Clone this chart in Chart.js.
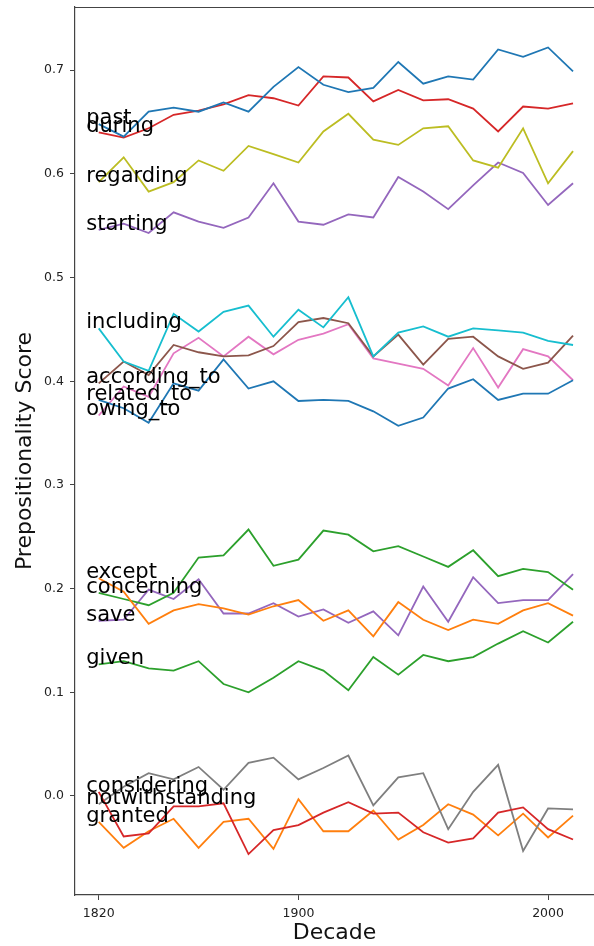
<!DOCTYPE html>
<html>
<head>
<meta charset="utf-8">
<script src="https://cdn.jsdelivr.net/npm/chart.js@4/dist/chart.umd.min.js"></script>
<style>
  html, body { margin: 0; padding: 0; background: #fff; }
  #chart { display: block; }
</style>
</head>
<body>
<canvas id="chart" width="594" height="946"></canvas>
<script>
// decades on the x axis
const decades = [1820, 1830, 1840, 1850, 1860, 1870, 1880, 1890, 1900, 1910,
                 1920, 1930, 1940, 1950, 1960, 1970, 1980, 1990, 2000, 2010];
const xTicks = [1820, 1900, 2000];
const yTicks = [0.0, 0.1, 0.2, 0.3, 0.4, 0.5, 0.6, 0.7];

// ===== series =====
const past = [0.648, 0.636, 0.660, 0.664, 0.660, 0.669, 0.660, 0.684, 0.703, 0.686,
              0.679, 0.683, 0.708, 0.687, 0.694, 0.691, 0.720, 0.713, 0.722, 0.699];
const during = [0.640, 0.635, 0.644, 0.657, 0.661, 0.667, 0.676, 0.673, 0.666, 0.694,
                0.693, 0.670, 0.681, 0.671, 0.672, 0.663, 0.641, 0.665, 0.663, 0.668];
const regarding = [0.592, 0.616, 0.583, 0.592, 0.613, 0.603, 0.627, 0.619, 0.611, 0.641,
                   0.658, 0.633, 0.628, 0.644, 0.646, 0.613, 0.606, 0.644, 0.591, 0.622];
const starting = [0.546, 0.552, 0.543, 0.563, 0.554, 0.548, 0.558, 0.591, 0.554, 0.551,
                  0.561, 0.558, 0.597, 0.583, 0.566, 0.589, 0.611, 0.601, 0.570, 0.591];
const including = [0.451, 0.419, 0.410, 0.465, 0.448, 0.467, 0.473, 0.443, 0.469, 0.452,
                   0.481, 0.424, 0.447, 0.453, 0.443, 0.451, 0.449, 0.447, 0.439, 0.435];
const accordingTo = [0.398, 0.419, 0.406, 0.435, 0.428, 0.424, 0.425, 0.434, 0.457, 0.461,
                     0.456, 0.424, 0.445, 0.416, 0.441, 0.443, 0.424, 0.412, 0.418, 0.444];
const relatedTo = [0.382, 0.374, 0.360, 0.398, 0.391, 0.421, 0.393, 0.400, 0.381, 0.382,
                   0.381, 0.371, 0.357, 0.365, 0.393, 0.402, 0.382, 0.388, 0.388, 0.401];
const owingTo = [0.367, 0.395, 0.385, 0.427, 0.442, 0.424, 0.443, 0.426, 0.440, 0.446,
                 0.455, 0.422, 0.417, 0.412, 0.396, 0.432, 0.394, 0.431, 0.424, 0.401];
const except = [0.210, 0.197, 0.166, 0.179, 0.185, 0.181, 0.175, 0.183, 0.189, 0.169,
                0.179, 0.154, 0.187, 0.170, 0.160, 0.170, 0.166, 0.179, 0.186, 0.174];
const concerning = [0.196, 0.190, 0.184, 0.196, 0.230, 0.232, 0.257, 0.222, 0.228, 0.256,
                    0.252, 0.236, 0.241, 0.231, 0.221, 0.237, 0.212, 0.219, 0.216, 0.199];
const save = [0.169, 0.170, 0.199, 0.190, 0.209, 0.176, 0.176, 0.186, 0.173, 0.180,
              0.167, 0.178, 0.155, 0.202, 0.168, 0.211, 0.186, 0.189, 0.189, 0.214];
const given = [0.127, 0.130, 0.123, 0.121, 0.130, 0.108, 0.100, 0.114, 0.130, 0.121,
               0.102, 0.134, 0.117, 0.136, 0.130, 0.134, 0.147, 0.159, 0.148, 0.168];
const considering = [0.004, -0.039, -0.036, -0.010, -0.010, -0.007, -0.056, -0.033, -0.028, -0.016,
                     -0.006, -0.017, -0.016, -0.035, -0.045, -0.041, -0.016, -0.011, -0.032, -0.042];
const notwithstanding = [-0.008, 0.009, 0.022, 0.016, 0.028, 0.006, 0.032, 0.037, 0.016, 0.027,
                         0.039, -0.009, 0.018, 0.022, -0.032, 0.004, 0.030, -0.053, -0.012, -0.013];
const granted = [-0.025, -0.050, -0.034, -0.022, -0.050, -0.025, -0.022, -0.051, -0.003, -0.034,
                 -0.034, -0.014, -0.042, -0.028, -0.008, -0.018, -0.038, -0.017, -0.040, -0.019];

const seriesNames = ['past', 'during', 'regarding', 'starting', 'including', 'according_to',
  'related_to', 'owing_to', 'except', 'concerning', 'save', 'given',
  'considering', 'notwithstanding', 'granted'];
const seriesValues = [past, during, regarding, starting, including, accordingTo,
  relatedTo, owingTo, except, concerning, save, given,
  considering, notwithstanding, granted];
const seriesColors = ['#1f77b4', '#d62728', '#bcbd22', '#9467bd', '#17becf', '#8c564b',
  '#1f77b4', '#e377c2', '#ff7f0e', '#2ca02c', '#9467bd', '#2ca02c',
  '#d62728', '#7f7f7f', '#ff7f0e'];

const FONT = '"DejaVu Sans", "Liberation Sans", sans-serif';
const LABEL_X = 1815; // labels sit half a decade left of the first point

const datasets = seriesNames.map((name, i) => ({
    label: name,
    data: decades.map((d, j) => ({ x: d, y: seriesValues[i][j] })),
    borderColor: seriesColors[i],
    backgroundColor: seriesColors[i],
    borderWidth: 1.8,
    pointRadius: 0,
    tension: 0,
    fill: false,
}));

// in-plot text labels at each series' first value + the top spine
const labelPlugin = {
    id: 'seriesLabels',
    afterDatasetsDraw(chart) {
        const { ctx, scales: { x, y } } = chart;
        ctx.save();
        ctx.fillStyle = '#000';
        ctx.font = '21px ' + FONT;
        ctx.textAlign = 'left';
        ctx.textBaseline = 'alphabetic';
        seriesNames.forEach((name, i) => {
            ctx.fillText(name, x.getPixelForValue(LABEL_X), y.getPixelForValue(seriesValues[i][0]));
        });
        ctx.restore();
    },
    afterDraw(chart) {
        const { ctx, chartArea } = chart;
        ctx.save();
        ctx.strokeStyle = '#444';
        ctx.lineWidth = 1.2;
        ctx.beginPath();
        ctx.moveTo(chartArea.left, chartArea.top + 0.5);
        ctx.lineTo(chartArea.right, chartArea.top + 0.5);
        ctx.stroke();
        ctx.restore();
    }
};

new Chart(document.getElementById('chart').getContext('2d'), {
    type: 'line',
    data: { datasets },
    plugins: [labelPlugin],
    options: {
        responsive: false,
        animation: false,
        layout: { padding: { top: 7, right: 0, bottom: 0, left: 0 } },
        plugins: { legend: { display: false }, tooltip: { enabled: false } },
        scales: {
            x: {
                type: 'linear',
                min: 1810.5,
                max: 2018.4,
                afterBuildTicks: s => { s.ticks = xTicks.map(v => ({ value: v })); },
                afterFit: s => { s.height = 51; s.paddingLeft = 0; s.paddingRight = 0; },
                grid: { drawOnChartArea: false, tickLength: 5, tickColor: '#444', tickWidth: 1 },
                border: { display: true, color: '#444', width: 1.2 },
                ticks: { color: '#222', font: { family: FONT, size: 12.5 }, padding: 6, maxRotation: 0,
                         callback: v => String(v) },
                title: { display: true, text: 'Decade', color: '#111',
                         font: { family: FONT, size: 22 }, padding: { top: 0, bottom: 0 } },
            },
            y: {
                type: 'linear',
                min: -0.0955,
                max: 0.761,
                afterBuildTicks: s => { s.ticks = yTicks.map(v => ({ value: v })); },
                afterFit: s => { s.width = 75; s.paddingTop = 0; s.paddingBottom = 0; },
                grid: { drawOnChartArea: false, tickLength: 5, tickColor: '#444', tickWidth: 1 },
                border: { display: true, color: '#444', width: 1.2 },
                ticks: { color: '#222', font: { family: FONT, size: 12.5 }, padding: 6,
                         callback: v => v.toFixed(1) },
                title: { display: true, text: 'Prepositionality Score', color: '#111',
                         font: { family: FONT, size: 22 }, padding: { top: 12, bottom: 0 } },
            }
        }
    }
});
</script>
</body>
</html>
